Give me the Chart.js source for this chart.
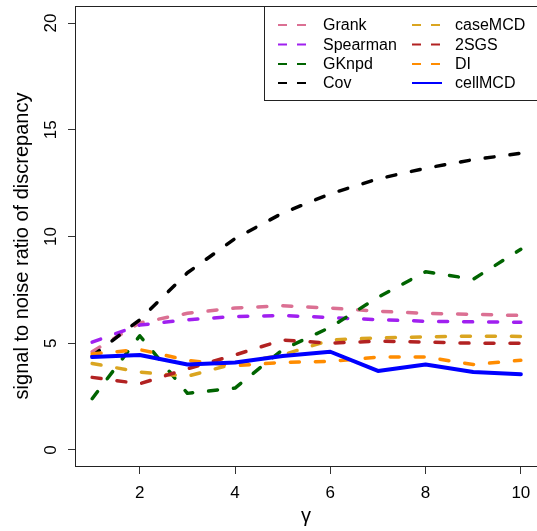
<!DOCTYPE html>
<html>
<head>
<meta charset="utf-8">
<script src="https://cdn.jsdelivr.net/npm/chart.js@4.4.1/dist/chart.umd.min.js"></script>
<style>
  html, body { margin:0; padding:0; background:#fff; overflow:hidden; }
  #wrap { width:537px; height:531px; overflow:hidden; position:relative; }
  canvas { position:absolute; left:0; top:0; }
</style>
</head>
<body>
<div id="wrap"><canvas id="snr" width="540" height="531"></canvas></div>
<script>
// ── Data ──────────────────────────────────────────────────────────────────
const gamma  = [1, 2, 3, 4, 5, 6, 7, 8, 9, 10];
const xTicks = [2, 4, 6, 8, 10];
const yTicks = [0, 5, 10, 15, 20];

const grank    = [4.6, 5.95, 6.4, 6.65, 6.75, 6.65, 6.5, 6.4, 6.35, 6.3];
const spearman = [5.05, 5.85, 6.1, 6.25, 6.3, 6.2, 6.1, 6.03, 6.0, 5.98];
const gknpd    = [2.4, 5.35, 2.65, 2.9, 4.7, 5.75, 7.15, 8.35, 8.0, 9.4];
const cov      = [4.4, 6.1, 8.3, 9.9, 11.1, 12.0, 12.7, 13.2, 13.6, 13.9];
const caseMCD  = [4.05, 3.65, 3.45, 4.05, 4.45, 5.15, 5.25, 5.3, 5.33, 5.32];
const sgs2     = [3.4, 3.1, 3.8, 4.45, 5.15, 5.0, 5.1, 5.05, 5.0, 5.0];
const di       = [4.5, 4.7, 4.2, 3.95, 4.1, 4.15, 4.35, 4.35, 4.0, 4.2];
const cellMCD  = [4.35, 4.45, 4.0, 4.1, 4.4, 4.6, 3.7, 4.0, 3.65, 3.55];

const FONT = "'Liberation Sans', Arial, sans-serif";
const DASH = [9, 16];

const series = [
  { label:'Grank',    values:grank,    color:'#DB7093', dash:DASH },
  { label:'Spearman', values:spearman, color:'#A020F0', dash:DASH },
  { label:'GKnpd',    values:gknpd,    color:'#006400', dash:DASH },
  { label:'Cov',      values:cov,      color:'#000000', dash:DASH },
  { label:'caseMCD',  values:caseMCD,  color:'#DAA520', dash:DASH },
  { label:'2SGS',     values:sgs2,     color:'#B22222', dash:DASH },
  { label:'DI',       values:di,       color:'#FF8C00', dash:DASH },
  { label:'cellMCD',  values:cellMCD,  color:'#0000FF', dash:[]   }
];

const datasets = series.map((s, i) => ({
  label: s.label,
  data: gamma.map((g, k) => ({ x:g, y:s.values[k] })),
  borderColor: s.color,
  borderWidth: s.dash.length ? 3.5 : 4,
  borderDash: s.dash,
  borderCapStyle: 'round',
  borderJoinStyle: 'round',
  pointRadius: 0,
  tension: 0,
  fill: false,
  order: series.length - i   // later series painted on top
}));

// ── Frame, labels and legend (base-graphics look) ─────────────────────────
const framePlugin = {
  id: 'frame',
  afterDraw(chart) {
    const { ctx, chartArea: ca, scales } = chart;
    ctx.save();
    ctx.strokeStyle = '#222';
    ctx.lineWidth = 1;
    ctx.strokeRect(ca.left + 0.5, ca.top + 0.5, ca.right - ca.left, ca.bottom - ca.top - 1);

    ctx.fillStyle = '#000';
    ctx.font = `17px ${FONT}`;
    ctx.textAlign = 'center';
    ctx.textBaseline = 'alphabetic';
    scales.x.ticks.forEach(t => ctx.fillText(String(t.value), scales.x.getPixelForValue(t.value), 498));

    scales.y.ticks.forEach(t => {
      ctx.save();
      ctx.translate(56, scales.y.getPixelForValue(t.value));
      ctx.rotate(-Math.PI / 2);
      ctx.fillText(String(t.value), 0, 0);
      ctx.restore();
    });

    // axis titles
    ctx.font = `20px ${FONT}`;
    ctx.fillText('γ', (ca.left + 537) / 2, 522);
    ctx.save();
    ctx.translate(28, 246);
    ctx.rotate(-Math.PI / 2);
    ctx.fillText('signal to noise ratio of discrepancy', 0, 0);
    ctx.restore();

    // legend, two columns filled top to bottom
    ctx.strokeStyle = '#222';
    ctx.strokeRect(264.5, ca.top + 0.5, 300, 94);
    ctx.font = `16px ${FONT}`;
    ctx.textAlign = 'left';
    ctx.textBaseline = 'middle';
    const rows = [25, 44.5, 64, 83];
    const cols = [{ x0:278, x1:307, tx:323 }, { x0:412, x1:442, tx:455 }];
    chart.data.datasets.forEach((ds, i) => {
      const c = cols[Math.floor(i / 4)], y = rows[i % 4];
      ctx.save();
      ctx.strokeStyle = ds.borderColor;
      ctx.lineWidth = 2;
      ctx.lineCap = 'butt';
      ctx.setLineDash(ds.borderDash.length ? [9, 10] : []);
      ctx.beginPath();
      ctx.moveTo(c.x0, y); ctx.lineTo(c.x1, y);
      ctx.stroke();
      ctx.restore();
      ctx.fillStyle = '#000';
      ctx.fillText(ds.label, c.tx, y + 1);
    });
    ctx.restore();
  }
};

const tickGrid = { display:true, drawOnChartArea:false, drawTicks:true, tickLength:7, color:'#333', lineWidth:1 };

new Chart(document.getElementById('snr').getContext('2d'), {
  type: 'line',
  data: { datasets },
  options: {
    responsive: false,
    devicePixelRatio: 1,
    animation: false,
    layout: { padding: { top:6, right:2, left:0, bottom:0 } },
    plugins: { legend:{ display:false }, tooltip:{ enabled:false } },
    scales: {
      x: {
        type: 'linear', min: 0.64, max: 10.36,
        afterBuildTicks: s => { s.ticks = xTicks.map(v => ({ value:v })); },
        afterFit: s => { s.height = 64; },
        ticks: { display:false },
        grid: tickGrid,
        border: { display:false }
      },
      y: {
        type: 'linear', min: -0.8, max: 20.8,
        afterBuildTicks: s => { s.ticks = yTicks.map(v => ({ value:v })); },
        afterFit: s => { s.width = 75; },
        ticks: { display:false },
        grid: tickGrid,
        border: { display:false }
      }
    }
  },
  plugins: [framePlugin]
});
</script>
</body>
</html>
